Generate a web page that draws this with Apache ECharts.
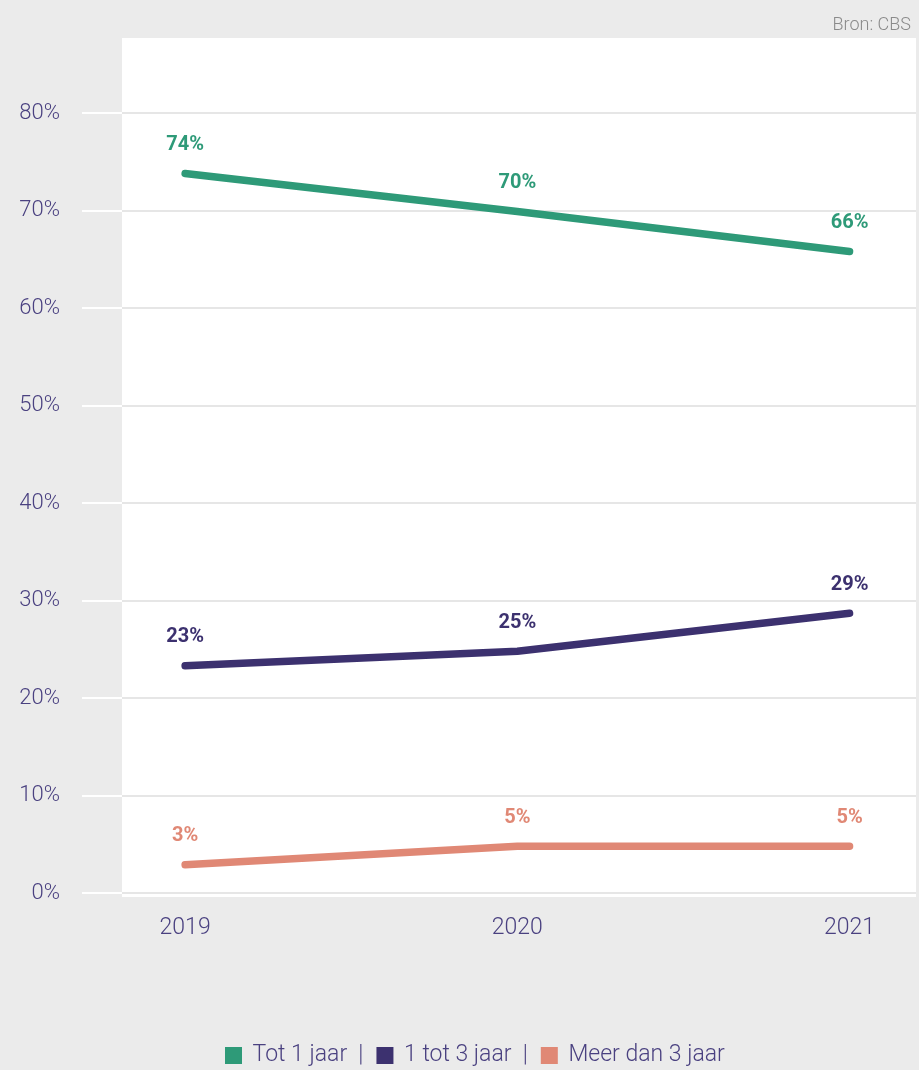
<!DOCTYPE html>
<html>
<head>
<meta charset="utf-8">
<script src="https://cdn.jsdelivr.net/npm/echarts@6/dist/echarts.min.js"></script>
<style>
  html, body { margin: 0; padding: 0; background: #ebebeb; }
  #chart { width: 919px; height: 1070px; }
</style>
</head>
<body>
<div id="chart"></div>
<script>
var years = [2019, 2020, 2021];
var yTicks = [0, 10, 20, 30, 40, 50, 60, 70, 80];
var tot1 = [73.8, 69.9, 65.8];
var tot3 = [23.3, 24.8, 28.7];
var meer3 = [2.9, 4.8, 4.8];
var names = ['Tot 1 jaar', '1 tot 3 jaar', 'Meer dan 3 jaar'];
var colors = ['#2e9a78', '#3c316f', '#e08875'];
var textColor = '#4a4180';
var font = 'Roboto';

function pairs(vals) {
    return years.map(function (y, i) { return [y, vals[i]]; });
}

function line(name, vals, color) {
    return {
        name: name,
        type: 'line',
        xAxisIndex: 1,
        yAxisIndex: 1,
        z: 5,
        data: pairs(vals),
        symbol: 'circle',
        symbolSize: 1,
        showSymbol: true,
        lineStyle: { color: color, width: 7.5, cap: 'round', join: 'round' },
        itemStyle: { color: color },
        label: {
            show: true,
            position: 'top',
            distance: 18,
            color: color,
            fontFamily: font,
            fontWeight: 'bold',
            fontSize: 20,
            formatter: function (p) { return Math.round(p.value[1]) + '%'; }
        }
    };
}

var myChart = echarts.init(document.getElementById('chart'));
myChart.setOption({
    backgroundColor: '#ebebeb',
    animation: false,
    title: {
        text: 'Bron: CBS',
        right: 3,
        top: 11,
        textStyle: { color: '#8a8a8a', fontFamily: font, fontWeight: 300, fontSize: 18 }
    },
    graphic: [{
        type: 'rect',
        z: 1,
        shape: { x: 122, y: 38, width: 794, height: 859 },
        style: { fill: '#ffffff' }
    }],
    grid: [
        { left: 82, right: 3, top: 113, bottom: 177 },
        { left: 122, right: 3, top: 113, bottom: 177 }
    ],
    xAxis: [{
        gridIndex: 0,
        type: 'value',
        show: false
    }, {
        gridIndex: 1,
        type: 'value',
        min: 2018.81,
        max: 2021.2,
        axisLine: { show: false },
        axisTick: { show: false },
        splitLine: { show: false },
        axisLabel: {
            customValues: years,
            margin: 24,
            color: textColor,
            fontFamily: font,
            fontWeight: 300,
            fontSize: 23,
            formatter: function (v) { return String(v); }
        }
    }],
    yAxis: [{
        gridIndex: 0,
        type: 'value',
        min: 0,
        max: 80,
        interval: 10,
        z: 0,
        axisLine: { show: false },
        axisTick: { show: false },
        splitLine: { lineStyle: { color: '#ffffff', width: 2 } },
        axisLabel: {
            margin: 22,
            color: textColor,
            fontFamily: font,
            fontWeight: 300,
            fontSize: 22,
            formatter: function (v) { return yTicks.indexOf(v) >= 0 ? v + '%' : ''; }
        }
    }, {
        gridIndex: 1,
        type: 'value',
        min: 0,
        max: 80,
        interval: 10,
        z: 2,
        axisLine: { show: false },
        axisTick: { show: false },
        axisLabel: { show: false },
        splitLine: { lineStyle: { color: '#e6e6e6', width: 2 } }
    }],
    legend: {
        bottom: -2,
        left: 220,
        icon: 'rect',
        itemWidth: 17,
        itemHeight: 17,
        itemGap: 13,
        data: names,
        textStyle: { color: textColor, fontFamily: font, fontWeight: 300, fontSize: 23 },
        formatter: function (n) { return n === names[2] ? ' ' + n : ' ' + n + '  |'; }
    },
    series: [
        line(names[0], tot1, colors[0]),
        line(names[1], tot3, colors[1]),
        line(names[2], meer3, colors[2])
    ]
});
</script>
</body>
</html>
